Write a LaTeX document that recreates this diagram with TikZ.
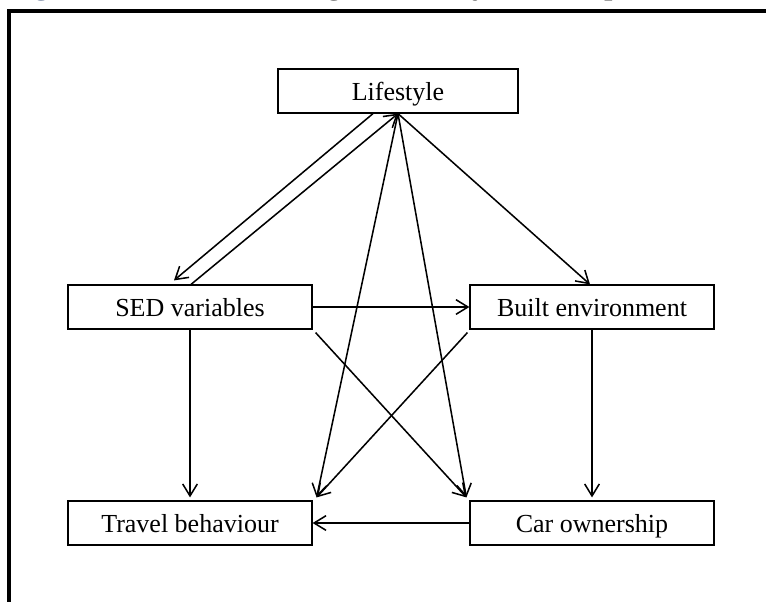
\documentclass[tikz,border=0pt]{standalone}
\usepackage{fontspec}
\setmainfont{Liberation Serif}
\usetikzlibrary{arrows.meta,calc}
\definecolor{captionblue}{HTML}{1F3864}
\begin{document}
\begin{tikzpicture}[x=0.75pt,y=-0.75pt,
  box/.style={draw,line width=0.9pt,minimum width=183pt,minimum height=33pt,
    inner sep=0pt,text height=17pt,text depth=3.5pt,
    font=\fontsize{19.5}{23}\selectfont},
  link/.style={line width=1.15pt,
    -{Straight Barb[length=9pt,width=11pt,line width=1.15pt]}},
]
\useasboundingbox (0,0) rectangle (766,601);

% caption line above the frame
\node[anchor=base west,inner sep=0pt,font=\fontsize{26}{30}\selectfont]
  (caption) at (4,-7) {\textcolor{captionblue}{Figure 3.3}\quad Introducing the lifestyle concept};

% frame around the figure
\draw[line width=2.3pt] (9,615) -- (9,11) -- (780,11);

% factors
\node[box,minimum width=180pt] (L)   at (398,91)  {Lifestyle};
\node[box] (SED) at (190,307) {SED variables};
\node[box] (BE)  at (592,307) {Built environment};
\node[box] (TB)  at (190,523) {Travel behaviour};
\node[box] (CO)  at (592,523) {Car ownership};

% influences
\draw[link] ($(L.south)+(-25,0)$) -- ($(SED.north)+(-16,-4)$);
\draw[link] ($(SED.north)+(1,0)$) -- (L.south);
\draw[link] (L.south) -- ($(BE.north)+(-2,0)$);
\draw[link] (L.south) -- ($(TB.north east)+(4,-3)$);
\draw[link] (L.south) -- ($(CO.north west)+(-3,-3)$);
\draw[link] (SED.east) -- (BE.west);
\draw[link] (SED.south) -- ($(TB.north)+(0,-3)$);
\draw[link] ($(SED.south east)+(3,3)$) -- ($(CO.north west)+(-3,-3)$);
\draw[link] ($(BE.south west)+(-2,3)$) -- ($(TB.north east)+(4,-3)$);
\draw[link] (BE.south) -- ($(CO.north)+(0,-3)$);
\draw[link] (CO.west) -- (TB.east);
\end{tikzpicture}
\end{document}
